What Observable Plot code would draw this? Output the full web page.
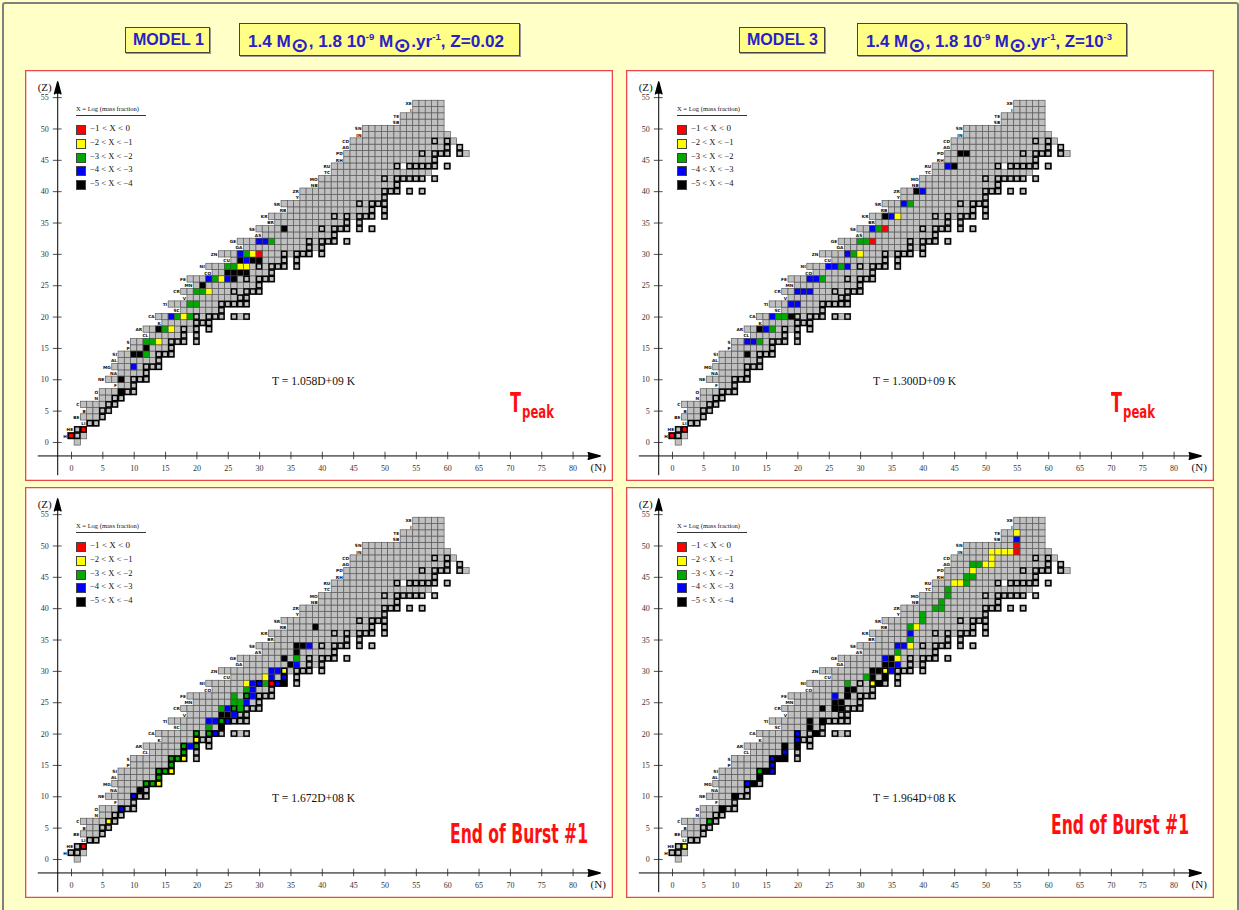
<!DOCTYPE html>
<html><head><meta charset="utf-8">
<script src="https://cdn.jsdelivr.net/npm/d3@7"></script>
<script src="https://cdn.jsdelivr.net/npm/@observablehq/plot@0.6"></script>
<style>
html,body{margin:0;padding:0;background:#ffffc8;}
#page{position:relative;width:1239px;height:910px;overflow:hidden;background:#ffffc8;}
#border{position:absolute;left:2px;top:2px;width:1233px;height:930px;border:2px solid #808080;border-radius:3px;}
.panel{position:absolute;width:588px;height:411px;background:#fff;box-shadow:inset 0 0 0 1.3px #e84848;}
.panel svg{position:absolute;left:0;top:0;}
.hbox{position:absolute;background:#ffff88;border:1.5px solid #444;box-shadow:1px 1px 0 #999;box-sizing:border-box;}
.htext{position:absolute;white-space:nowrap;font-family:Arial,"Liberation Sans",sans-serif;font-weight:bold;color:#2b20c8;font-size:16px;transform-origin:0 0;}
.sun{font-family:"DejaVu Sans",sans-serif;font-size:20px;position:relative;top:5px;font-weight:bold;}
.htext sup{font-size:9px;position:relative;top:-1px;}
.ov{position:absolute;white-space:nowrap;transform-origin:0 0;}
.serif{font-family:"Liberation Serif","DejaVu Serif",serif;color:#111;}
.big{font-family:"Liberation Sans Narrow","DejaVu Sans Condensed","Roboto",sans-serif;font-weight:bold;color:#ff1010;}
</style></head>
<body><div id="page"><div id="border"></div></div>
<script>
// ---------------- DATA ----------------
const elements = ["","H","HE","LI","BE","B","C","N","O","F","NE","NA","MG","AL","SI","P","S","CL","AR","K","CA",
  "SC","TI","V","CR","MN","FE","CO","NI","CU","ZN","GA","GE","AS","SE","BR","KR","RB","SR","Y","ZR",
  "NB","MO","TC","RU","RH","PD","AG","CD","IN","SN","SB","TE","I","XE"];
// first neutron number of each row (index = Z)
const rowNmin = [1,0,1,3,2,3,2,5,5,8,6,8,7,8,8,10,10,13,12,15,14,18,16,19,18,20,19,23,22,26,24,28,27,31,30,33,32,35,34,37,37,40,40,42,42,44,44,45,45,47,47,53,53,55,55];
// last neutron number of the contiguous part of each row
const rowNcont = [1,2,2,4,5,6,7,8,10,10,12,12,14,14,16,16,18,18,20,22,24,24,28,28,30,30,32,32,34,34,38,40,42,42,44,44,48,48,50,50,52,52,56,57,52,58,60,60,61,60,59,59,59,59,59];
// isolated nuclides beyond the contiguous part
const rowExtra = {16:[20],17:[20],18:[22],20:[26,27,28],28:[36],29:[36],30:[40],32:[44],34:[46,48],35:[46],36:[50],37:[50],40:[54,56],42:[58],44:[54,55,56,57,58,60],46:[62,63],47:[62]};
// stable nuclides (neutron numbers), drawn with a heavy outline
const stableN = {1:[0,1],2:[1,2],3:[3,4],4:[5],5:[5,6],6:[6,7],7:[7,8],8:[8,9,10],9:[10],10:[10,11,12],11:[12],12:[12,13,14],
  13:[14],14:[14,15,16],15:[16],16:[16,17,18,20],17:[18,20],18:[18,20,22],19:[20,21,22],20:[20,22,23,24,26,28],21:[24],
  22:[24,25,26,27,28],23:[27,28],24:[26,28,29,30],25:[30],26:[28,30,31,32],27:[32],28:[30,32,33,34,36],29:[34,36],
  30:[34,36,37,38,40],31:[38,40],32:[38,40,41,42,44],33:[42],34:[40,42,43,44,46,48],35:[44,46],36:[42,44,46,47,48,50],
  37:[48,50],38:[46,48,49,50],39:[50],40:[50,51,52,54,56],41:[52],42:[50,52,53,54,55,56,58],44:[52,54,55,56,57,58,60],
  45:[58],46:[56,58,59,60,62],47:[60,62],48:[58,60]};
// mass-fraction classes
const classKeys = ["r","y","g","b","k"];
const classColors = ["#ff0000","#ffff00","#00a800","#0000ff","#000000"];
const classLabels = ["\u22121 < X <  0","\u22122 < X < \u22121","\u22123 < X < \u22122","\u22124 < X < \u22123","\u22125 < X < \u22124"];
// coloured nuclides [N, Z, class] per panel
const model1Peak = [[0,1,"r"],[2,2,"r"],[8,8,"k"],[8,10,"k"],[10,12,"b"],[10,14,"k"],[11,14,"k"],[12,14,"g"],[12,15,"k"],
  [12,16,"g"],[13,16,"g"],[14,16,"y"],[14,18,"k"],[15,18,"g"],[16,18,"y"],[16,20,"b"],[17,20,"g"],[18,20,"y"],[19,20,"g"],
  [19,22,"g"],[20,22,"g"],[20,24,"g"],[21,24,"g"],[22,24,"y"],[21,25,"k"],[22,26,"b"],[23,26,"g"],[24,26,"y"],[25,26,"b"],
  [26,26,"k"],[25,27,"k"],[26,27,"k"],[27,27,"k"],[28,27,"k"],[25,28,"g"],[26,28,"g"],[27,28,"y"],[28,28,"y"],[27,29,"k"],
  [28,29,"b"],[29,29,"k"],[30,29,"k"],[27,30,"b"],[28,30,"g"],[29,30,"y"],[30,30,"r"],[30,32,"b"],[31,32,"b"],[32,32,"g"],[34,34,"k"]];
const model1End = [[2,2,"r"],[6,6,"y"],[8,8,"b"],[10,10,"b"],[11,11,"k"],
  [12,12,"g"],[13,12,"g"],[14,12,"y"],[14,13,"g"],[14,14,"g"],[15,14,"g"],[16,14,"y"],[16,15,"g"],
  [16,16,"g"],[17,16,"g"],[18,16,"y"],[18,17,"g"],[18,18,"g"],[19,18,"b"],[20,18,"g"],[20,19,"y"],[20,20,"g"],
  [22,20,"g"],[23,20,"b"],[22,21,"g"],[24,21,"k"],[22,22,"b"],[23,22,"b"],[24,22,"g"],[25,22,"b"],
  [24,23,"k"],[25,23,"k"],[26,23,"b"],[24,24,"g"],[25,24,"b"],[26,24,"g"],[27,24,"g"],
  [26,25,"g"],[27,25,"g"],[28,25,"b"],[26,26,"g"],[28,26,"g"],[29,26,"b"],[28,27,"g"],[29,27,"b"],
  [28,28,"y"],[29,28,"b"],[30,28,"b"],[31,28,"g"],[32,28,"r"],[33,28,"b"],[34,28,"k"],
  [31,29,"y"],[32,29,"b"],[34,29,"b"],[32,30,"b"],[33,30,"b"],[34,30,"y"],
  [34,32,"k"],[35,31,"k"],[36,31,"b"],[36,32,"g"],[36,33,"k"],[36,34,"k"],[37,34,"k"],[38,34,"b"],[39,37,"k"]];
const model3Peak = [[0,1,"r"],[2,2,"r"],[12,14,"k"],[12,16,"b"],[13,16,"b"],[14,16,"g"],[14,18,"k"],[15,18,"b"],[16,18,"g"],
  [16,20,"b"],[17,20,"g"],[18,20,"g"],[19,20,"k"],[19,22,"b"],[20,22,"b"],[20,24,"b"],[21,24,"b"],[22,24,"b"],[22,26,"b"],
  [23,26,"b"],[24,26,"g"],[25,28,"b"],[26,28,"b"],[27,28,"g"],[28,28,"b"],[28,30,"b"],[29,30,"g"],[30,30,"y"],[30,32,"g"],
  [31,32,"g"],[32,32,"r"],[32,34,"b"],[33,34,"g"],[34,34,"r"],[34,36,"k"],[35,36,"b"],[36,36,"y"],[37,38,"b"],[38,38,"g"],
  [39,40,"k"],[40,40,"b"],[44,44,"b"],[45,44,"k"],[46,46,"k"],[47,46,"k"]];
const model3End = [[2,2,"y"],[6,6,"g"],[8,8,"k"],[10,10,"k"],[12,12,"b"],[13,12,"k"],[14,13,"k"],
  [14,14,"g"],[15,14,"k"],[16,14,"b"],[16,15,"b"],[16,16,"b"],[17,16,"k"],[18,16,"k"],[18,17,"b"],[18,18,"k"],
  [20,18,"k"],[20,19,"b"],[20,20,"b"],[23,20,"k"],[22,21,"k"],[22,22,"k"],[24,22,"k"],[24,24,"k"],
  [26,24,"k"],[27,24,"k"],[26,25,"k"],[27,25,"k"],[26,26,"b"],[28,26,"k"],[28,27,"k"],[29,27,"k"],[28,28,"g"],
  [32,28,"y"],[33,28,"k"],[31,29,"g"],[32,29,"k"],[34,29,"k"],[32,30,"k"],[33,30,"k"],[34,30,"y"],[35,30,"b"],
  [34,31,"k"],[35,31,"k"],[36,31,"b"],[34,32,"b"],[35,32,"k"],[36,32,"y"],[36,33,"g"],[36,34,"b"],[37,34,"b"],
  [38,34,"y"],[38,35,"g"],[38,36,"b"],[38,37,"g"],[39,37,"y"],[40,38,"g"],[40,39,"g"],[42,40,"g"],[43,40,"g"],
  [43,41,"g"],[44,42,"g"],[44,43,"g"],[45,44,"y"],[46,44,"y"],[47,44,"g"],[47,45,"g"],[48,45,"g"],[48,46,"y"],
  [48,47,"g"],[49,47,"g"],[50,47,"y"],[51,47,"y"],[51,48,"y"],[51,49,"y"],[52,49,"y"],[53,49,"y"],[54,49,"y"],
  [55,49,"r"],[55,50,"r"],[55,51,"b"],[55,52,"y"]];
const xTicks = d3.range(0, 81, 5);
const yTicks = d3.range(0, 56, 5);
const panelTemps = ["T = 1.058D+09 K","T = 1.672D+08 K","T = 1.300D+09 K","T = 1.964D+08 K"];
const panelStages = ["peak","burst","peak","burst"];
const modelNames = ["MODEL 1","MODEL 3"];
const modelZ = ["0.02","10<sup>-3</sup>"];

// ---------------- LAYOUT ----------------
const U = 6.27, X0 = 46, Y0 = 371.97, PW = 588, PH = 411;
const panelPos = [[25,70],[25,487],[626,70],[626,487]];
const axisN = -2.2, axisZ = -2.15;
const page = document.getElementById("page");

const nuclides = [];
elements.forEach((el, z) => {
  const ns = d3.range(rowNmin[z], rowNcont[z] + 1).concat(rowExtra[z] || []);
  ns.forEach(n => nuclides.push({n, z, stable: (stableN[z] || []).includes(n)}));
});
const rowsLab = elements.map((el, z) => ({z, el, n0: rowNmin[z]})).filter(d => d.el);

function cellRect(data, opts) {
  return Plot.rect(data, {x1: d => d.n - 0.5, x2: d => d.n + 0.5, y1: d => d.z - 0.5, y2: d => d.z + 0.5, ...opts});
}
function fit(el, w) {
  const r = el.getBoundingClientRect().width;
  if (r > 0) el.style.transform = `scaleX(${w / r})`;
}
function add(html, cls, left, top) {
  const d = document.createElement("div");
  d.className = cls; d.innerHTML = html;
  d.style.left = left + "px"; d.style.top = top + "px";
  return d;
}
const serif = "Liberation Serif, DejaVu Serif, serif";

function makePanel(i, colored) {
  const [px, py] = panelPos[i];
  const div = document.createElement("div");
  div.className = "panel"; div.style.left = px + "px"; div.style.top = py + "px";
  page.appendChild(div);
  const col = colored.map(([n, z, c]) => ({n, z, c}));
  const svg = Plot.plot({
    width: PW, height: PH, margin: 0,
    x: {domain: [0, 80], range: [X0, X0 + 80 * U], axis: null},
    y: {domain: [0, 55], range: [Y0, Y0 - 55 * U], axis: null},
    color: {domain: classKeys, range: classColors},
    style: {background: "transparent", overflow: "visible"},
    marks: [
      cellRect(nuclides, {fill: "#c0c0c0", stroke: "#5a5a5a", strokeWidth: 0.7}),
      cellRect(col, {fill: "c", stroke: "#4a4a4a", strokeWidth: 0.6}),
      cellRect(nuclides.filter(d => d.stable), {fill: "none", stroke: "#000", strokeWidth: 1.4, inset: 0.55}),
      Plot.text(rowsLab, {x: d => d.n0 - 0.5, y: "z", text: "el", textAnchor: "end", dx: -1.5, fontSize: 4.3, fontWeight: 700,
        fontFamily: "DejaVu Sans, sans-serif", fill: "#111"}),
      Plot.ruleY([axisZ], {x1: -5.3, x2: 83, stroke: "#000", strokeWidth: 1}),
      Plot.ruleX([axisN], {y1: -5.3, y2: 56, stroke: "#000", strokeWidth: 1}),
      Plot.vector([0], {x: 82.4, y: axisZ, length: 12, rotate: 90, shape: "spike", r: 3.2, fill: "#000", stroke: "#000", anchor: "start"}),
      Plot.vector([0], {x: axisN, y: 55.6, length: 12, rotate: 0, shape: "spike", r: 3.2, fill: "#000", stroke: "#000", anchor: "start"}),
      Plot.ruleX(xTicks, {x: d => d, y1: axisZ - 0.6, y2: axisZ + 0.6, stroke: "#222", strokeWidth: 0.8}),
      Plot.ruleY(yTicks, {y: d => d, x1: axisN - 0.7, x2: axisN + 0.7, stroke: "#222", strokeWidth: 0.8}),
      Plot.text(xTicks, {x: d => d, y: axisZ, dy: 12, text: d => String(d), fontSize: 8, fontFamily: serif, fill: "#333"}),
      Plot.text(yTicks, {x: axisN, y: d => d, dx: -9, textAnchor: "end", text: d => String(d), fontSize: 8, fontFamily: serif, fill: "#333"}),
      Plot.text(["(N)"], {x: 84, y: axisZ, dy: 12, text: d => d, fontSize: 11, fontFamily: serif, fill: "#111"}),
      Plot.text(["(Z)"], {x: axisN, y: 56.6, dx: -13, text: d => d, fontSize: 11, fontFamily: serif, fill: "#111"})
    ]
  });
  div.appendChild(svg);
  // legend
  const t = add("X = Log (mass fraction)", "ov serif", 51, 34.5); t.style.fontSize = "7px"; div.appendChild(t); fit(t, 63);
  const ul = add("", "ov", 50.7, 44.5); ul.style.width = "70px"; ul.style.borderTop = "1px solid #333"; div.appendChild(ul);
  classLabels.forEach((lab, k) => {
    const sw = add("", "ov", 50.7, 55 + k * 13.75); sw.style.width = "8.2px"; sw.style.height = "8.2px";
    sw.style.background = classColors[k]; sw.style.border = "0.8px solid #444"; div.appendChild(sw);
    const tx = add(lab, "ov serif", 65, 54 + k * 13.75); tx.style.fontSize = "8px"; tx.style.lineHeight = "10px"; div.appendChild(tx);
    fit(tx, k === 0 ? 40 : 42.5);
  });
  const tt = add(panelTemps[i], "ov serif", 247, 304); tt.style.fontSize = "12px"; tt.style.lineHeight = "14px"; div.appendChild(tt); fit(tt, 83);
  if (panelStages[i] === "peak") {
    const T = add("T", "ov big", 485, 318); T.style.fontSize = "27px"; T.style.lineHeight = "30px"; div.appendChild(T); fit(T, 11);
    const pk = add("peak", "ov big", 496.5, 332); pk.style.fontSize = "17px"; pk.style.lineHeight = "20px"; div.appendChild(pk); fit(pk, 32);
  } else {
    const top = i === 1 ? 332 : 323;
    const e = add("End of Burst #1", "ov big", 425, top); e.style.fontSize = "26px"; e.style.lineHeight = "30px"; div.appendChild(e); fit(e, 138);
  }
}

// header boxes
[[125,27,85,26,239,23,281,33],[739,27,86,26,857,23,270,33]].forEach((b, m) => {
  const b1 = add("", "hbox", b[0], b[1]); b1.style.width = b[2] + "px"; b1.style.height = b[3] + "px"; page.appendChild(b1);
  const t1 = add(modelNames[m], "htext", b[0] + 8, b[1] + 4); page.appendChild(t1); fit(t1, 71);
  const b2 = add("", "hbox", b[4], b[5]); b2.style.width = b[6] + "px"; b2.style.height = b[7] + "px"; page.appendChild(b2);
  const t2 = add(`1.4 M<span class="sun">\u2299</span>, 1.8 10<sup>-9</sup> M<span class="sun">\u2299</span>.yr<sup>-1</sup>, Z=${modelZ[m]}`, "htext", b[4] + 9, b[5] + 5);
  page.appendChild(t2); fit(t2, m === 0 ? 256 : 246);
});

makePanel(0, model1Peak);
makePanel(1, model1End);
makePanel(2, model3Peak);
makePanel(3, model3End);
</script></body></html>
